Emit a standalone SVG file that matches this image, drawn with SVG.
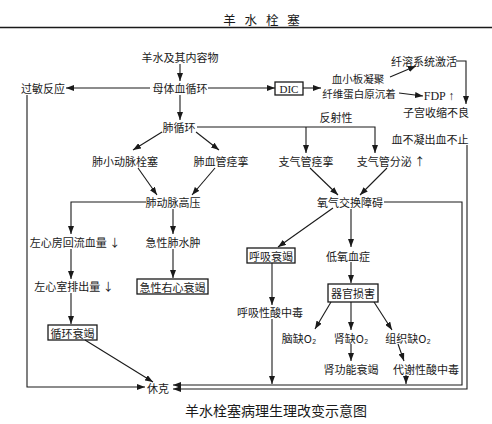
<svg xmlns="http://www.w3.org/2000/svg" width="492" height="424" viewBox="0 0 492 424">
<defs>
<style>
text{font-family:"Noto Sans CJK SC","Noto Sans CJK JP",sans-serif;font-size:11px;fill:#1a1a1a;text-anchor:middle;dominant-baseline:central}
.lat{font-family:"Liberation Serif","Noto Sans CJK SC",serif;font-size:12px}
.cap{font-size:14px}
.hdr{font-size:12.5px;letter-spacing:3px}
.sm{font-size:10.5px}
.box{fill:none;stroke:#1a1a1a;stroke-width:1.3}
.ln{fill:none;stroke:#1a1a1a;stroke-width:1.1}
.ar{marker-end:url(#ah)}
</style>
<marker id="ah" markerUnits="userSpaceOnUse" markerWidth="8" markerHeight="6" refX="8" refY="3" orient="auto">
<path d="M0,0 L8,3 L0,6 z" fill="#1a1a1a"/>
</marker>
</defs>
<rect width="492" height="424" fill="#ffffff"/>
<g id="header">
<text class="hdr" x="263" y="19">羊 水 栓 塞</text>
<line x1="0" y1="27.5" x2="492" y2="27.5" stroke="#1a1a1a" stroke-width="1.5"/>
</g>
<g id="connectors">
<line class="ln ar" x1="180" y1="64" x2="180" y2="81"/>
<line class="ln ar" x1="150" y1="88" x2="66" y2="88"/>
<line class="ln ar" x1="208" y1="88" x2="275" y2="88"/>
<line class="ln ar" x1="303" y1="88" x2="321" y2="88"/>
<line class="ln ar" x1="390" y1="77" x2="416" y2="66"/>
<line class="ln ar" x1="399" y1="93" x2="423" y2="96"/>
<path class="ln ar" d="M456 61 H466 V104"/>
<line class="ln ar" x1="180" y1="95" x2="180" y2="120"/>
<path class="ln ar" d="M197 127 H375 V153"/>
<line class="ln ar" x1="306" y1="127" x2="306" y2="153"/>
<line class="ln ar" x1="162" y1="132" x2="133" y2="150"/>
<line class="ln ar" x1="196" y1="132" x2="219" y2="150"/>
<line class="ln ar" x1="138" y1="168" x2="157" y2="195"/>
<line class="ln ar" x1="215" y1="168" x2="192" y2="195"/>
<path class="ln ar" d="M146 202 H71 V234"/>
<line class="ln ar" x1="173" y1="209" x2="173" y2="234"/>
<line class="ln ar" x1="71" y1="249" x2="71" y2="279"/>
<line class="ln ar" x1="173" y1="249" x2="173" y2="278"/>
<line class="ln ar" x1="71" y1="293" x2="71" y2="324"/>
<line class="ln ar" x1="85" y1="340" x2="153" y2="382"/>
<path class="ln ar" d="M27 95 V387 H145"/>
<line class="ln ar" x1="310" y1="168" x2="338" y2="195"/>
<line class="ln ar" x1="387" y1="168" x2="360" y2="195"/>
<line class="ln ar" x1="333" y1="208" x2="278" y2="247"/>
<line class="ln ar" x1="351" y1="209" x2="351" y2="247"/>
<path class="ln ar" d="M384 202 H462 V385 H173"/>
<path class="ln ar" d="M467 145 V389 H173"/>
<line class="ln ar" x1="351" y1="262" x2="351" y2="283"/>
<line class="ln ar" x1="272" y1="263" x2="272" y2="305"/>
<line class="ln ar" x1="272" y1="319" x2="272" y2="384"/>
<line class="ln ar" x1="331" y1="302" x2="315" y2="329"/>
<line class="ln ar" x1="351" y1="302" x2="351" y2="330"/>
<line class="ln ar" x1="374" y1="302" x2="392" y2="330"/>
<line class="ln ar" x1="351" y1="344" x2="351" y2="361"/>
<line class="ln ar" x1="398" y1="344" x2="404" y2="361"/>
<line class="ln ar" x1="406" y1="375" x2="406" y2="384"/>
</g>
<g id="n-amniotic"><text x="180" y="57">羊水及其内容物</text></g>
<g id="n-maternal"><text x="180" y="88">母体血循环</text></g>
<g id="n-allergy"><text x="43" y="88">过敏反应</text></g>
<g id="n-dic"><rect class="box" x="275" y="82" width="28" height="13"/><text class="lat" x="289" y="88.5" style="font-size:11px">DIC</text></g>
<g id="n-platelet"><text class="sm" x="358" y="78">血小板凝聚</text><text class="sm" x="359" y="93.5">纤维蛋白原沉着</text></g>
<g id="n-fibrinolysis"><text x="424" y="61">纤溶系统激活</text></g>
<g id="n-fdp"><text class="lat" x="439" y="96">FDP ↑</text></g>
<g id="n-uterus"><text x="436" y="112">子宫收缩不良</text></g>
<g id="n-bleeding"><text x="430" y="139">血不凝出血不止</text></g>
<g id="n-pulmcirc"><text x="179" y="127">肺循环</text></g>
<g id="n-reflex"><text x="336" y="117">反射性</text></g>
<g id="n-embolism"><text x="125" y="161">肺小动脉栓塞</text></g>
<g id="n-vasospasm"><text x="221" y="161">肺血管痉挛</text></g>
<g id="n-bronchospasm"><text x="306" y="161">支气管痉挛</text></g>
<g id="n-secretion"><text x="391" y="161">支气管分泌 ↑</text></g>
<g id="n-pah"><text x="173" y="202">肺动脉高压</text></g>
<g id="n-gas"><text x="350" y="202">氧气交换障碍</text></g>
<g id="n-return"><text x="75" y="242">左心房回流血量 ↓</text></g>
<g id="n-edema"><text x="173" y="242">急性肺水肿</text></g>
<g id="n-respfail"><rect class="box" x="247" y="248" width="48" height="15"/><text x="271" y="255.5">呼吸衰竭</text></g>
<g id="n-hypoxemia"><text x="348" y="256">低氧血症</text></g>
<g id="n-output"><text x="74" y="286">左心室排出量 ↓</text></g>
<g id="n-rhf"><rect class="box" x="137" y="279" width="71" height="15"/><text x="172.5" y="286.5">急性右心衰竭</text></g>
<g id="n-organ"><rect class="box" x="328" y="284" width="50" height="18"/><text x="353" y="293">器官损害</text></g>
<g id="n-respacid"><text x="270" y="312">呼吸性酸中毒</text></g>
<g id="n-circfail"><rect class="box" x="48" y="325" width="49" height="15"/><text x="72.5" y="332.5">循环衰竭</text></g>
<g id="n-brain"><text x="299" y="338">脑缺O₂</text></g>
<g id="n-kidney"><text x="351" y="338">肾缺O₂</text></g>
<g id="n-tissue"><text x="408" y="338">组织缺O₂</text></g>
<g id="n-renalfail"><text x="351" y="369">肾功能衰竭</text></g>
<g id="n-metacid"><text x="426" y="369">代谢性酸中毒</text></g>
<g id="n-shock"><text x="158" y="388">休克</text></g>
<g id="caption"><text class="cap" x="276" y="410">羊水栓塞病理生理改变示意图</text></g>
</svg>
